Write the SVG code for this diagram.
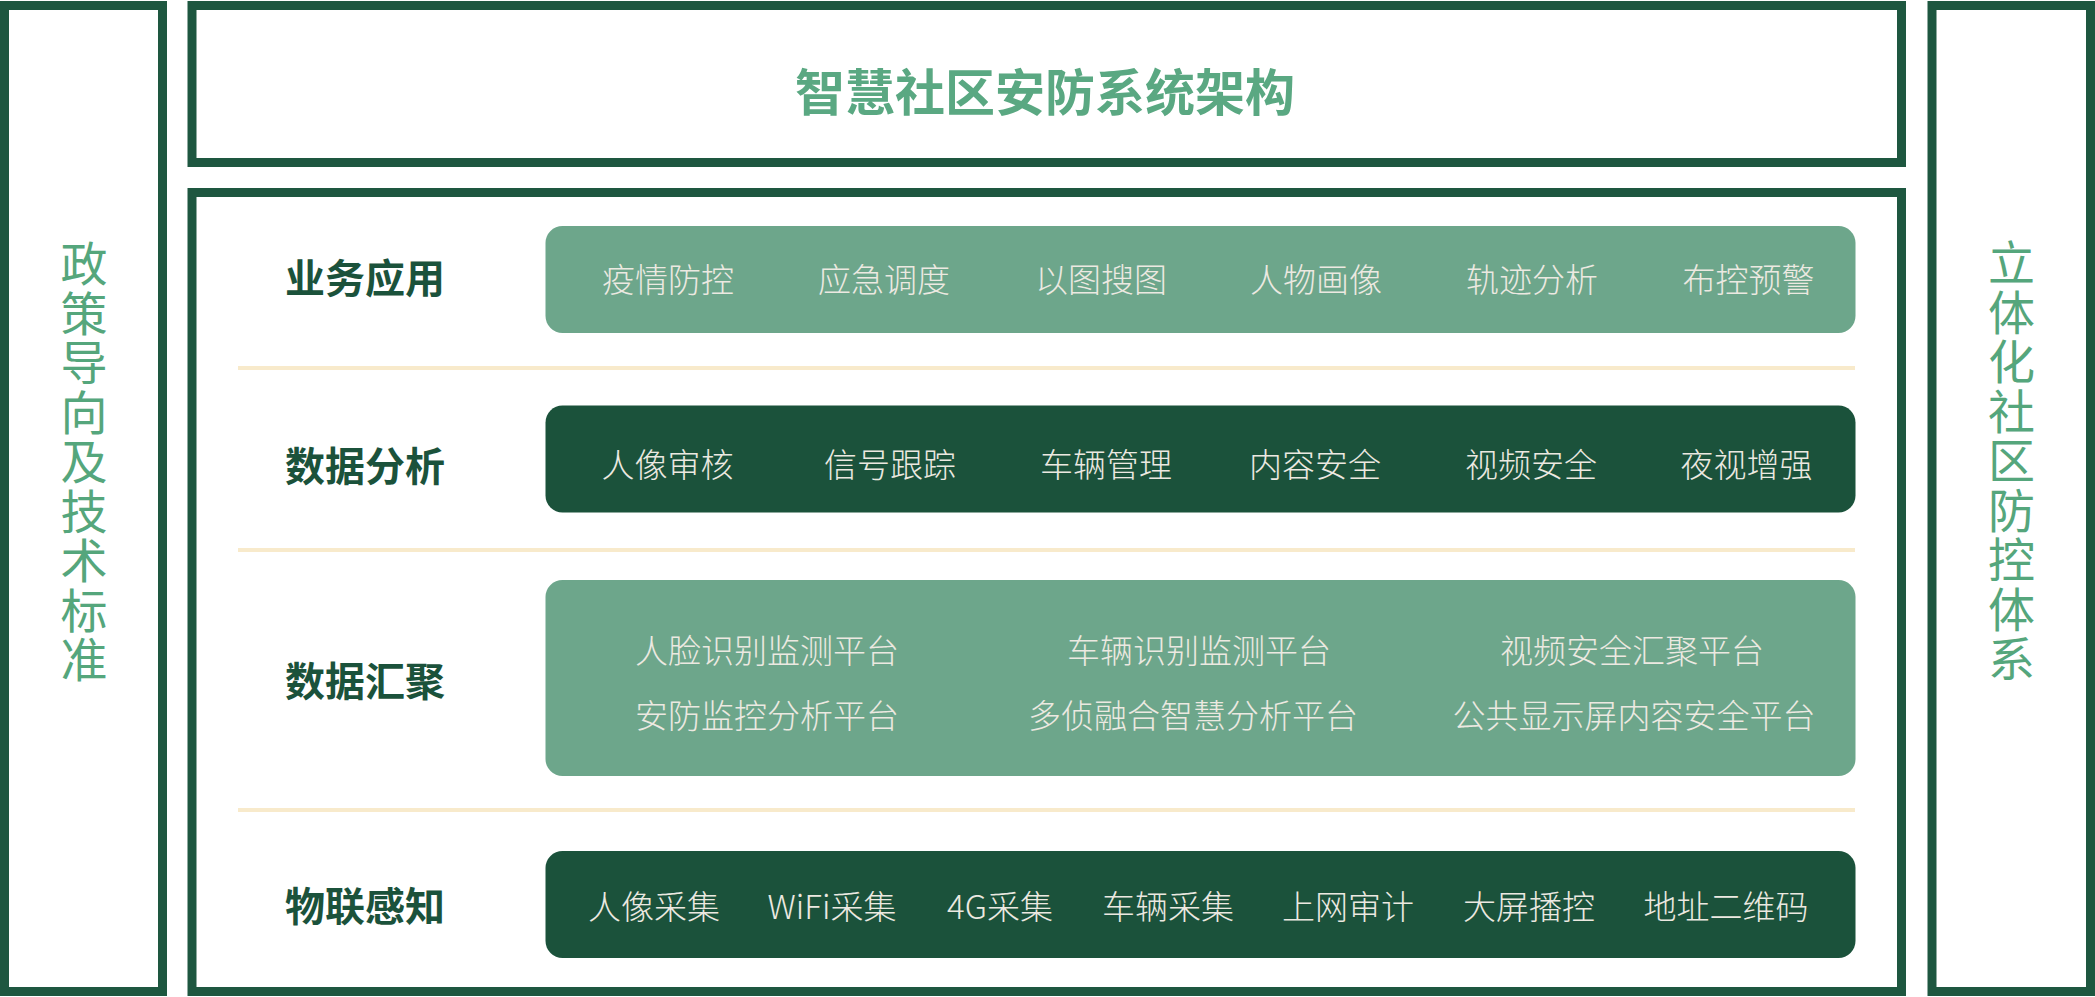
<svg xmlns="http://www.w3.org/2000/svg" width="2095" height="997" viewBox="0 0 2095 997">
<style>
.frame{fill:#ffffff;stroke:#1e5740;stroke-width:9}
.light{fill:#6da68b}
.dark{fill:#1b523b}
.sep{stroke:#f8eacb;stroke-width:4}
text{font-family:"Noto Sans CJK SC","Noto Sans",sans-serif;dominant-baseline:central}
.item{font-size:33px;font-weight:300;fill:#ece9e1;text-anchor:middle}
.label{font-size:40px;font-weight:700;fill:#1b523b;text-anchor:middle}
.title{font-size:50px;font-weight:700;fill:#5aa882;text-anchor:middle}
.vert{font-size:47px;font-weight:400;fill:#55a67c;writing-mode:vertical-rl;letter-spacing:2.5px}
</style>
<rect width="2095" height="997" fill="#ffffff"/>
<g id="left-panel">
<rect class="frame" x="4.5" y="5.5" width="158" height="986"/>
<text class="vert" x="84" y="240">政策导向及技术标准</text>
</g>
<g id="right-panel">
<rect class="frame" x="1932" y="5.5" width="158.5" height="986"/>
<text class="vert" x="2011.5" y="239">立体化社区防控体系</text>
</g>
<g id="title-box">
<rect class="frame" x="192" y="5.5" width="1709.5" height="157"/>
<text class="title" x="1045" y="89">智慧社区安防系统架构</text>
</g>
<g id="main-box">
<rect class="frame" x="192" y="192.5" width="1709.5" height="799"/>
</g>
<g id="connectors">
<line class="sep" x1="238" y1="368" x2="1855" y2="368"/>
<line class="sep" x1="238" y1="550" x2="1855" y2="550"/>
<line class="sep" x1="238" y1="810" x2="1855" y2="810"/>
</g>
<g id="layer-business">
<text class="label" x="365" y="276">业务应用</text>
<rect class="light" x="545.5" y="226" width="1310" height="107" rx="17"/>
<text class="item" y="278"><tspan x="668">疫情防控</tspan><tspan x="884">应急调度</tspan><tspan x="1101">以图搜图</tspan><tspan x="1316">人物画像</tspan><tspan x="1532">轨迹分析</tspan><tspan x="1748.5">布控预警</tspan></text>
</g>
<g id="layer-analysis">
<text class="label" x="365" y="464">数据分析</text>
<rect class="dark" x="545.5" y="405.5" width="1310" height="107" rx="17"/>
<text class="item" y="462.5"><tspan x="667.5">人像审核</tspan><tspan x="890">信号跟踪</tspan><tspan x="1106">车辆管理</tspan><tspan x="1315">内容安全</tspan><tspan x="1531">视频安全</tspan><tspan x="1746.5">夜视增强</tspan></text>
</g>
<g id="layer-aggregation">
<text class="label" x="365" y="679">数据汇聚</text>
<rect class="light" x="545.5" y="580" width="1310" height="196" rx="17"/>
<text class="item" y="648.5"><tspan x="767">人脸识别监测平台</tspan><tspan x="1199">车辆识别监测平台</tspan><tspan x="1632">视频安全汇聚平台</tspan></text>
<text class="item" y="714"><tspan x="767">安防监控分析平台</tspan><tspan x="1193">多侦融合智慧分析平台</tspan><tspan x="1634">公共显示屏内容安全平台</tspan></text>
</g>
<g id="layer-iot">
<text class="label" x="365" y="904">物联感知</text>
<rect class="dark" x="545.5" y="851" width="1310" height="107" rx="17"/>
<text class="item" y="905"><tspan x="654">人像采集</tspan><tspan x="832">WiFi采集</tspan><tspan x="1000">4G采集</tspan><tspan x="1168">车辆采集</tspan><tspan x="1348">上网审计</tspan><tspan x="1529">大屏播控</tspan><tspan x="1726">地址二维码</tspan></text>
</g>
</svg>
